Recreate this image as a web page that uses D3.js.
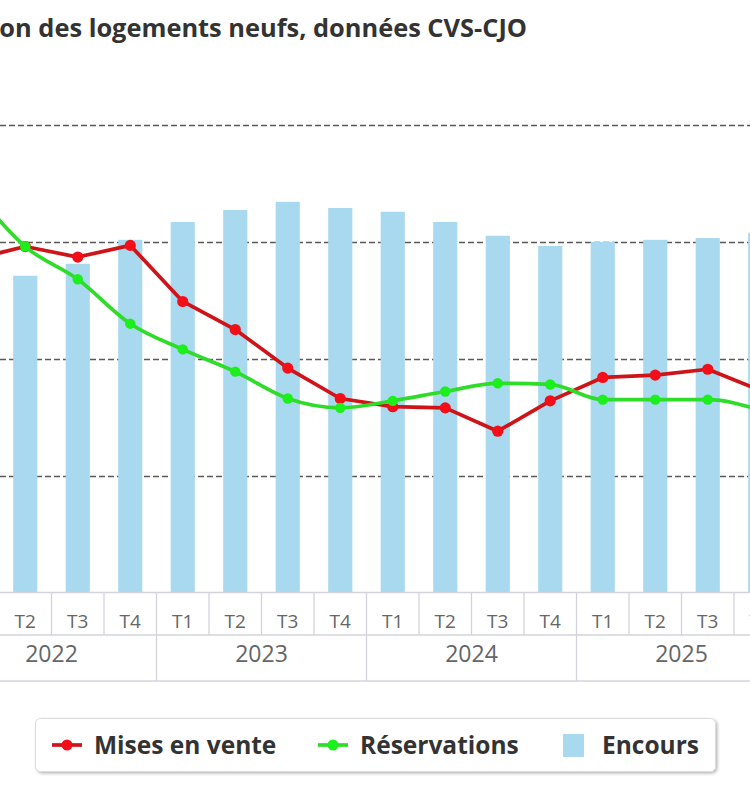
<!DOCTYPE html>
<html><head><meta charset="utf-8">
<script src="https://cdn.jsdelivr.net/npm/d3@7/dist/d3.min.js"></script>
<style>body{margin:0;background:#fff;} svg{display:block;}</style>
</head><body>
<svg id="chart" width="750" height="800"></svg>
<script>
// ---- data ----
const quarterLabels = ["T1","T2","T3","T4","T1","T2","T3","T4","T1","T2","T3","T4","T1","T2","T3","T4"];
const yearOfPeriod  = ["2022","2022","2022","2022","2023","2023","2023","2023","2024","2024","2024","2024","2025","2025","2025","2025"];
const yearLabels = ["2022","2023","2024","2025"];
const misesEnVente = [28500,29600,28700,29700,24900,22500,19200,16600,15900,15800,13800,16400,18400,18600,19100,17300];
const reservations = [34500,29600,26800,23000,20800,18900,16600,15800,16400,17200,17900,17800,16500,16500,16500,15600];
const encours      = [107000,108400,112500,120700,126800,130900,133700,131600,130300,126800,122100,118600,120000,120700,121300,123100];
const leftTicks = [10000,20000,30000,40000];
const seriesNames = ["Mises en vente","Réservations","Encours"];
const titleText = "Commercialisation des logements neufs, données CVS-CJO";

// ---- setup ----
const svg = d3.select("#chart");
const periods = quarterLabels.map((q,i)=> yearOfPeriod[i] + " " + q);
const FONT = "'Open Sans', 'Noto Sans', sans-serif";
const plotTop = 125, plotBottom = 592.5;

const x = d3.scaleBand().domain(periods).range([-53.5, 786.5]);
const yL = d3.scaleLinear().domain([0,40000]).range([plotBottom, plotTop]);
const yR = d3.scaleLinear().domain([0,160000]).range([plotBottom, plotTop]);
const cx = p => x(p) + x.bandwidth()/2;

const defs = svg.append("defs");
const f = defs.append("filter").attr("id","shadow").attr("x","-5%").attr("y","-20%").attr("width","110%").attr("height","150%");
f.append("feDropShadow").attr("dx",1.5).attr("dy",1.5).attr("stdDeviation",1.5).attr("flood-color","#000").attr("flood-opacity",0.28);

// title
svg.append("text").attr("x",527).attr("y",37).attr("text-anchor","end")
  .attr("font-family",FONT).attr("font-weight","bold").attr("font-size",25.4)
  .attr("fill","#333").text(titleText);

// gridlines
svg.append("g").selectAll("line").data(leftTicks).join("line")
  .attr("x1",0).attr("x2",750).attr("y1",d=>Math.round(yL(d))+0.5).attr("y2",d=>Math.round(yL(d))+0.5)
  .attr("stroke","#5a5a5a").attr("stroke-width",1.3).attr("stroke-dasharray","6,3");

// bars
const bw = x.bandwidth()*0.46;
svg.append("g").selectAll("rect").data(encours).join("rect")
  .attr("x",(d,i)=>cx(periods[i]) - bw/2).attr("width",bw)
  .attr("y",d=>yR(d)).attr("height",d=>plotBottom - yR(d))
  .attr("fill","#a9d9ee");

// axis
const axisG = svg.append("g").attr("stroke","#d3d3dc").attr("stroke-width",1.3);
axisG.append("line").attr("x1",0).attr("x2",750).attr("y1",plotBottom).attr("y2",plotBottom);
axisG.append("line").attr("x1",0).attr("x2",750).attr("y1",635).attr("y2",635);
axisG.append("line").attr("x1",0).attr("x2",750).attr("y1",681).attr("y2",681);
axisG.selectAll("line.tick").data(periods).join("line").attr("class","tick")
  .attr("x1",d=>x(d)+x.bandwidth()).attr("x2",d=>x(d)+x.bandwidth())
  .attr("y1",plotBottom).attr("y2",635);
const yearStart = yearLabels.map(y => periods[yearOfPeriod.indexOf(y)]);
const yearEnd = yearLabels.map(y => periods[yearOfPeriod.lastIndexOf(y)]);
axisG.selectAll("line.ysep").data(yearLabels).join("line").attr("class","ysep")
  .attr("x1",(d,i)=>x(yearEnd[i])+x.bandwidth()).attr("x2",(d,i)=>x(yearEnd[i])+x.bandwidth())
  .attr("y1",635).attr("y2",681);

svg.append("g").selectAll("text").data(periods).join("text")
  .attr("x",d=>cx(d)).attr("y",628).attr("text-anchor","middle")
  .attr("font-family",FONT).attr("font-size",19).attr("fill","#666")
  .text((d,i)=>quarterLabels[i]);
svg.append("g").selectAll("text").data(yearLabels).join("text")
  .attr("x",(d,i)=> (x(yearStart[i]) + x(yearEnd[i]) + x.bandwidth())/2).attr("y",662)
  .attr("text-anchor","middle").attr("font-family",FONT).attr("font-size",23).attr("fill","#666")
  .text(d=>d);

// lines
const redLine = "#cf1419", redDot = "#f40f18";
const greenLine = "#2fdc2a", greenDot = "#1cf01c";
const lineRed = d3.line().x((d,i)=>cx(periods[i])).y(d=>yL(d));
const lineGreen = d3.line().x((d,i)=>cx(periods[i])).y(d=>yL(d)).curve(d3.curveMonotoneX);

svg.append("path").datum(misesEnVente).attr("d",lineRed).attr("fill","none")
  .attr("stroke",redLine).attr("stroke-width",3.7).attr("stroke-linejoin","round");
svg.append("g").selectAll("circle").data(misesEnVente).join("circle")
  .attr("cx",(d,i)=>cx(periods[i])).attr("cy",d=>yL(d)).attr("r",5.6).attr("fill",redDot);

svg.append("path").datum(reservations).attr("d",lineGreen).attr("fill","none")
  .attr("stroke",greenLine).attr("stroke-width",3.7).attr("stroke-linejoin","round");
svg.append("g").selectAll("circle").data(reservations).join("circle")
  .attr("cx",(d,i)=>cx(periods[i])).attr("cy",d=>yL(d)).attr("r",5.2).attr("fill",greenDot);

// legend
const lg = svg.append("g");
lg.append("rect").attr("x",35.5).attr("y",718.5).attr("width",680).attr("height",53).attr("rx",5)
  .attr("fill","#fff").attr("stroke","#dcdcdc").attr("filter","url(#shadow)");
const ly = 745;
const items = [
  {name:seriesNames[0], sx:52, tx:94, type:"line", line:redLine, dot:redDot},
  {name:seriesNames[1], sx:318, tx:360, type:"line", line:greenLine, dot:greenDot},
  {name:seriesNames[2], sx:563, tx:602, type:"rect"}
];
items.forEach(it=>{
  if(it.type==="line"){
    lg.append("line").attr("x1",it.sx).attr("x2",it.sx+30).attr("y1",ly).attr("y2",ly)
      .attr("stroke",it.line).attr("stroke-width",3.7);
    lg.append("circle").attr("cx",it.sx+15).attr("cy",ly).attr("r",5.5).attr("fill",it.dot);
  } else {
    lg.append("rect").attr("x",it.sx).attr("y",ly-11).attr("width",21).attr("height",23).attr("fill","#a9d9ee");
  }
  lg.append("text").attr("x",it.tx).attr("y",ly+8.5).attr("font-family",FONT).attr("font-weight","bold")
    .attr("font-size",24.5).attr("fill","#333").text(it.name);
});
</script>
</body></html>
